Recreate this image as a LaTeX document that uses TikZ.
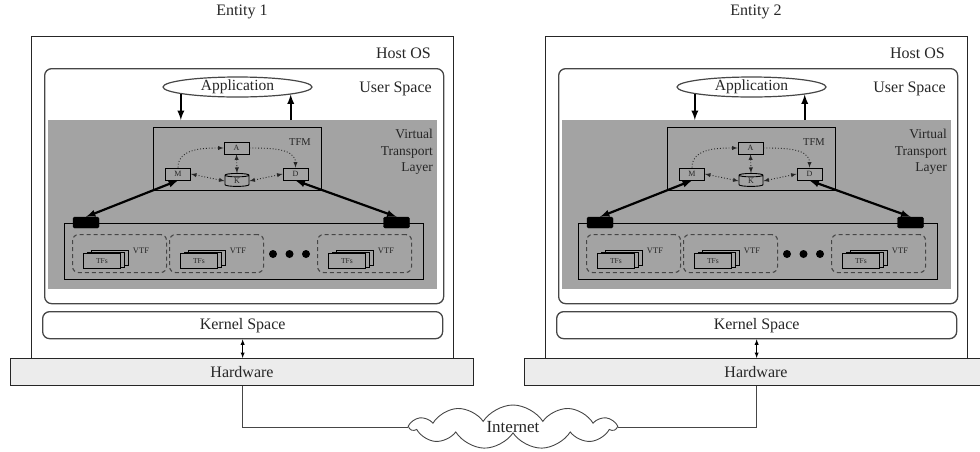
\documentclass[tikz,border=0pt]{standalone}
\usepackage{fontspec}
\setmainfont{Liberation Serif}
\usetikzlibrary{arrows,shapes.geometric,shapes.symbols}
\definecolor{layergray}{RGB}{163,163,163}
\definecolor{hwgray}{RGB}{236,236,236}
\definecolor{inkgray}{RGB}{38,38,38}
\definecolor{edgegray}{RGB}{70,70,70}

\tikzset{
  txtbig/.style={font=\fontsize{16}{18}\selectfont, text=inkgray, inner sep=0pt},
  panel/.style={draw=inkgray, anchor=north west, inner sep=0pt, line width=1pt},
  userbox/.style={panel, draw=edgegray, line width=1.3pt, rounded corners=7pt},
  layer/.style={fill=layergray, anchor=north west, inner sep=0pt},
  vtltext/.style={font=\fontsize{13.5}{16.5}\selectfont, text=inkgray, align=right, inner sep=0pt},
  app/.style={ellipse, draw=edgegray, line width=1.2pt, fill=white, inner sep=0pt,
              text height=10.5pt, text depth=3pt,
              minimum width=149pt, minimum height=20pt, font=\fontsize{15.5}{17}\selectfont, text=inkgray},
  bigarrow/.style={line width=2.2pt, draw=black, -latex},
  tfmbox/.style={draw=black, fill=layergray, minimum width=25pt, minimum height=12pt, inner sep=0pt,
                 line width=0.9pt, font=\fontsize{8}{9}\selectfont, text=inkgray},
  dotarrow/.style={dotted, line width=0.9pt, draw=inkgray, >=latex},
  port/.style={fill=black, draw=black, minimum width=26pt, minimum height=11pt, inner sep=0pt, rounded corners=1.5pt},
  vtfbox/.style={panel, draw=edgegray, line width=1.1pt, dash pattern=on 4pt off 3pt, rounded corners=6pt,
                 minimum width=94pt, minimum height=38pt},
  page/.style={panel, draw=black, fill=layergray, line width=0.9pt, minimum width=37pt, minimum height=15pt,
               font=\fontsize{7.5}{8}\selectfont, text=inkgray},
  bigdot/.style={circle, fill=black, minimum size=8pt, inner sep=0pt},
  thinarrow/.style={line width=0.9pt, draw=black, latex-latex},
  hwbox/.style={panel, fill=hwgray, line width=1pt, minimum width=463pt, minimum height=27pt,
                font=\fontsize{16}{18}\selectfont, text=inkgray},
  wire/.style={line width=0.9pt, draw=edgegray}
}

\begin{document}
\begin{tikzpicture}[x=1pt, y=-1pt]
  \useasboundingbox (0,0) rectangle (980,451);
  \foreach \e/\dx in {1/0,2/514}{
    \begin{scope}[xshift=\dx pt]
      % Entity title
      \node[txtbig] (ent\e) at (242,12) {Entity \e};
      % Host OS and user space
      \node[panel, minimum width=422pt, minimum height=322pt] (host\e) at (31,36) {};
      \node[txtbig, anchor=east] (hostlbl\e) at (431,53) {Host OS};
      \node[userbox, minimum width=399pt, minimum height=235pt] (user\e) at (44,68) {};
      \node[txtbig, anchor=east] (userlbl\e) at (432,89) {User Space};
      \node[app] (app\e) at (237.5,87) {Application};
      % Virtual transport layer
      \node[layer, minimum width=389pt, minimum height=169pt] (vtl\e) at (48,120) {};
      \node[vtltext, anchor=north east] (vtllbl\e) at (433,129) {Virtual\\Transport\\Layer};
      \draw[bigarrow] (app\e.187) -- (app\e.187 |- vtl\e.north);
      \draw[bigarrow] (app\e.352 |- vtl\e.north) -- (app\e.352);
      % TFM
      \node[panel, draw=black, minimum width=168pt, minimum height=63pt] (tfm\e) at (153,127) {};
      \node[font=\fontsize{10.5}{12}\selectfont, text=inkgray, inner sep=0pt] (tfmlbl\e) at (300,142) {TFM};
      \node[tfmbox] (A\e) at (236.5,148) {A};
      \node[tfmbox] (M\e) at (178,174) {M};
      \node[tfmbox] (D\e) at (295.5,174) {D};
      \node[tfmbox, cylinder, shape border rotate=90, aspect=0.6, minimum width=24pt, minimum height=13pt,
            text depth=0pt, text height=5pt] (K\e) at (237,181) {K};
      \draw[dotarrow, ->] (M\e.north) to[out=90, in=180] (A\e.west);
      \draw[dotarrow, ->] (A\e.east) to[out=0, in=90] (D\e.north);
      \draw[dotarrow, <->] (A\e.south) -- (K\e.north);
      \draw[dotarrow, <->] (M\e.east) -- (K\e.west);
      \draw[dotarrow, <->] (K\e.east) -- (D\e.west);
      % VTF container
      \node[panel, draw=black, minimum width=359pt, minimum height=56pt] (vtfs\e) at (64,223) {};
      \node[port] (portL\e) at (86,222.5) {};
      \node[port] (portR\e) at (396.5,222.5) {};
      \draw[bigarrow, latex-latex] (portL\e.north) -- (M\e.south);
      \draw[bigarrow, latex-latex] (portR\e.north) -- (D\e.south);
      \foreach \bx in {72,169,317}{
        \node[vtfbox] (vtf\e-\bx) at (\bx,234) {};
        \node[page] (tfc\e-\bx) at (\bx+19,250) {};
        \node[page] (tfb\e-\bx) at (\bx+15,251.5) {};
        \node[page] (tfa\e-\bx) at (\bx+11,253) {TFs};
        \node[font=\fontsize{8.5}{9}\selectfont, text=inkgray, inner sep=0pt] (vtflbl\e-\bx) at (\bx+69,251) {VTF};
      }
      \node[bigdot] (dotA\e) at (273,254) {};
      \node[bigdot] (dotB\e) at (289.5,254) {};
      \node[bigdot] (dotC\e) at (306,254) {};
      % Kernel space and hardware
      \node[userbox, minimum width=400pt, minimum height=27pt] (kernel\e) at (42,311) {};
      \node[txtbig] (kernlbl\e) at (kernel\e.center) {Kernel Space};
      \node[hwbox] (hw\e) at (10,358) {};
      \node[txtbig] (hwlbl\e) at (hw\e.center) {Hardware};
      \draw[thinarrow] (kernel\e.south) -- (kernel\e.south |- hw\e.north);
    \end{scope}
  }
  % Internet
  \node[cloud, draw=edgegray, line width=0.9pt, cloud puffs=11, cloud puff arc=115, aspect=4.8,
        minimum width=205pt, minimum height=44pt, inner sep=0pt,
        font=\fontsize{17}{19}\selectfont, text=inkgray] (net) at (513,427) {Internet};
  \draw[wire] (hw1.south) |- (net.west);
  \draw[wire] (hw2.south) |- (net.east);
\end{tikzpicture}
\end{document}
